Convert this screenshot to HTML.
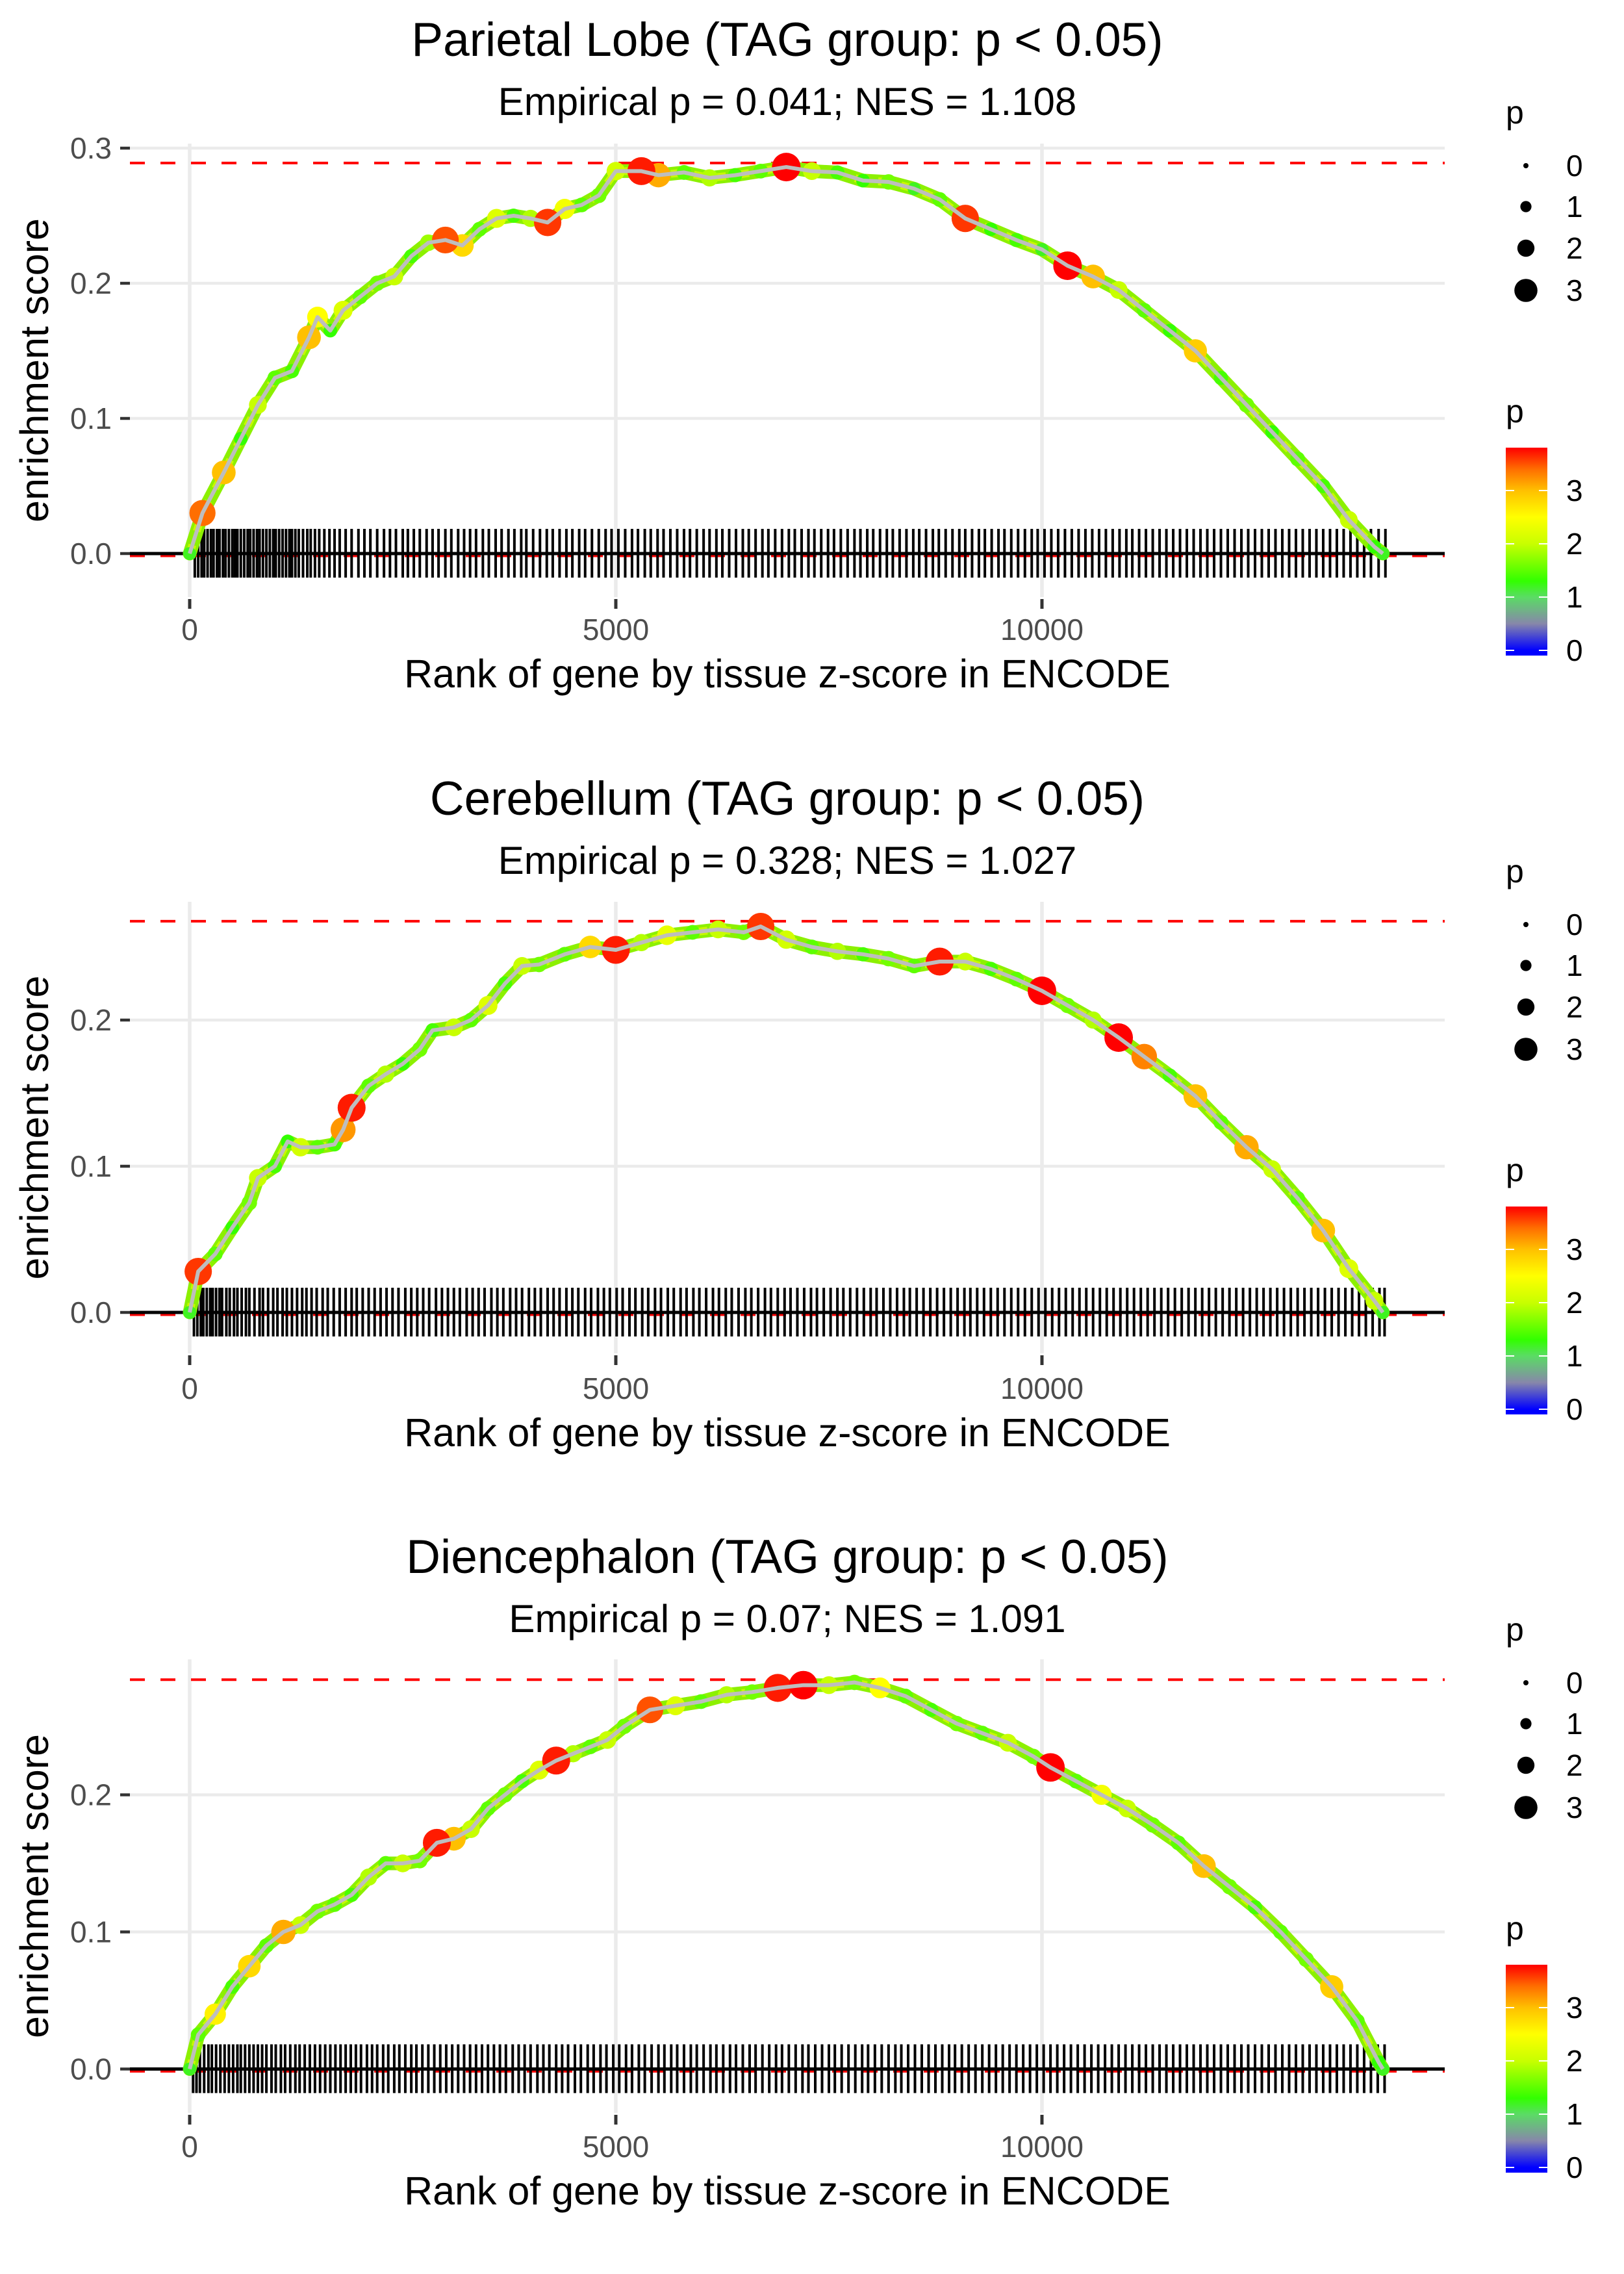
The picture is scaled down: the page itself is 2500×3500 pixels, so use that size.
<!DOCTYPE html>
<html><head><meta charset="utf-8"><style>
html,body{margin:0;padding:0;background:#fff;}
svg{display:block;font-family:"Liberation Sans",Arial,sans-serif;}
</style></head><body>
<svg id="chart" xmlns="http://www.w3.org/2000/svg" width="2500" height="3500" viewBox="0 0 2500 3500"></svg>
<script>
// ---------- DATA ----------
const panelTitles = ["Parietal Lobe (TAG group: p < 0.05)", "Cerebellum (TAG group: p < 0.05)", "Diencephalon (TAG group: p < 0.05)"];
const panelSubtitles = ["Empirical p = 0.041; NES = 1.108", "Empirical p = 0.328; NES = 1.027", "Empirical p = 0.07; NES = 1.091"];
const maxES = [0.289, 0.2676, 0.284];
const xTicks = [0, 5000, 10000];
const xTickLabels = ["0", "5000", "10000"];
const yTicks1 = [0, 0.1, 0.2, 0.3];
const yTicks2 = [0, 0.1, 0.2];
const yTicks3 = [0, 0.1, 0.2];
const yTickLabels1 = ["0.0", "0.1", "0.2", "0.3"];
const yTickLabels2 = ["0.0", "0.1", "0.2"];
const yTickLabels3 = ["0.0", "0.1", "0.2"];

const rank1 = [0,150,400,600,800,1000,1200,1400,1500,1650,1800,2000,2200,2400,2600,2800,3000,3200,3400,3600,3800,4000,4200,4400,4600,4800,5000,5300,5500,5800,6100,6400,6700,7000,7300,7600,7900,8200,8500,8800,9100,9400,9700,10000,10300,10600,10900,11200,11500,11800,12100,12400,12700,13000,13300,13600,13900,14000];
const es1 = [0,0.03,0.06,0.085,0.11,0.13,0.135,0.16,0.175,0.165,0.18,0.19,0.2,0.205,0.22,0.23,0.232,0.228,0.24,0.248,0.25,0.248,0.245,0.255,0.258,0.265,0.283,0.283,0.28,0.282,0.278,0.28,0.283,0.286,0.283,0.282,0.276,0.275,0.27,0.262,0.248,0.24,0.232,0.225,0.213,0.205,0.195,0.18,0.165,0.15,0.13,0.11,0.09,0.07,0.05,0.025,0.005,0];
const p1 = [1.2,3.4,3.0,1.3,2.0,1.5,1.4,3.0,2.5,1.3,2.2,1.5,1.6,2.0,1.4,1.8,3.5,2.8,1.5,2.2,1.4,1.9,3.6,2.4,1.5,1.6,2.1,3.7,3.1,1.5,1.9,1.4,1.5,3.8,2.0,1.4,1.3,1.6,1.2,1.5,3.6,1.3,1.4,1.2,3.8,3.0,2.0,1.5,1.3,2.9,1.4,1.6,1.3,1.5,1.4,2.0,1.3,1.2];

const rank2 = [0,100,300,500,700,800,1000,1150,1300,1500,1700,1800,1900,2100,2300,2500,2700,2850,3100,3300,3500,3700,3900,4100,4400,4700,5000,5300,5600,5900,6200,6500,6700,7000,7300,7600,7900,8200,8500,8800,9100,9400,9700,10000,10300,10600,10900,11200,11500,11800,12100,12400,12700,13000,13300,13600,13900,14000];
const es2 = [0,0.028,0.04,0.058,0.075,0.092,0.1,0.117,0.113,0.113,0.115,0.125,0.14,0.155,0.163,0.17,0.18,0.193,0.195,0.2,0.21,0.225,0.237,0.238,0.245,0.25,0.248,0.253,0.258,0.26,0.262,0.26,0.264,0.255,0.25,0.247,0.245,0.242,0.237,0.24,0.24,0.235,0.228,0.22,0.21,0.2,0.188,0.175,0.162,0.148,0.13,0.113,0.098,0.078,0.056,0.03,0.008,0];
const p2 = [1.2,3.6,1.5,1.3,1.6,2.0,1.4,1.3,2.1,1.5,1.4,3.2,3.7,1.5,1.9,1.3,1.6,1.4,2.0,1.5,2.2,1.4,2.0,1.6,1.5,2.8,3.7,1.9,2.3,1.5,2.0,1.6,3.6,2.1,1.5,1.9,1.4,1.6,1.5,3.7,2.0,1.4,1.5,3.8,1.6,1.9,3.8,3.3,1.4,3.0,1.5,3.1,2.0,1.5,3.0,2.2,2.0,1.2];

const rank3 = [0,100,300,500,700,900,1100,1300,1500,1700,1900,2100,2300,2500,2700,2900,3100,3300,3500,3700,3900,4100,4300,4500,4700,4900,5100,5400,5700,6000,6300,6600,6900,7200,7500,7800,8100,8400,8700,9000,9300,9600,9900,10100,10400,10700,11000,11300,11600,11900,12200,12500,12800,13100,13400,13700,13950,14000];
const es3 = [0,0.025,0.04,0.06,0.075,0.09,0.1,0.105,0.115,0.12,0.127,0.14,0.15,0.15,0.152,0.165,0.168,0.175,0.19,0.2,0.21,0.218,0.225,0.23,0.235,0.24,0.25,0.262,0.265,0.268,0.273,0.275,0.278,0.28,0.28,0.282,0.278,0.272,0.262,0.252,0.245,0.238,0.228,0.22,0.21,0.2,0.19,0.178,0.165,0.148,0.133,0.118,0.1,0.08,0.06,0.035,0.005,0];
const p3 = [1.2,1.5,2.6,1.4,2.8,1.5,3.1,2.0,1.6,1.5,1.4,1.9,1.5,2.0,1.6,3.7,3.0,2.0,1.5,1.6,1.4,2.2,3.7,1.9,1.5,2.0,1.6,3.5,2.2,1.5,1.9,1.6,3.7,3.8,2.0,1.6,2.5,1.5,1.4,1.6,1.5,2.0,1.6,3.8,1.5,2.4,2.0,1.6,1.5,3.0,1.6,1.4,1.5,1.6,2.9,1.5,1.3,1.2];

const rug1 = [60,100,140,170,210,250,280,320,350,390,420,460,500,530,560,600,640,680,710,750,790,820,860,900,940,980,1010,1050,1090,1130,1170,1200,1240,1280,1330,1380,1420,1470,1520,1580,1640,1700,1760,1830,1900,1980,2050,2120,2200,2280,2350,2420,2500,2560,2630,2700,2780,2850,2920,3000,3070,3150,3220,3290,3360,3440,3510,3590,3660,3740,3810,3890,3950,4030,4110,4190,4260,4340,4420,4490,4570,4640,4720,4800,4880,4950,5030,5110,5190,5260,5340,5410,5490,5560,5640,5720,5800,5870,5950,6030,6100,6180,6250,6330,6410,6490,6560,6640,6720,6790,6870,6950,7030,7100,7180,7260,7330,7410,7490,7560,7640,7720,7800,7870,7950,8020,8100,8180,8250,8330,8410,8490,8560,8640,8720,8790,8870,8950,9030,9100,9180,9260,9330,9410,9490,9560,9640,9720,9800,9880,9950,10030,10110,10190,10270,10350,10430,10510,10590,10670,10750,10830,10910,10990,11060,11140,11220,11300,11380,11460,11540,11620,11700,11780,11860,11940,12020,12100,12180,12260,12340,12420,12500,12580,12660,12740,12820,12900,12980,13060,13140,13220,13300,13380,13460,13540,13620,13700,13780,13860,13950,14030];
const rug2 = [50,90,130,160,200,240,270,310,350,380,430,470,520,560,610,660,700,760,820,860,920,980,1030,1090,1140,1200,1260,1320,1370,1430,1490,1560,1620,1690,1760,1830,1900,1960,2030,2100,2170,2240,2310,2380,2450,2530,2600,2670,2740,2810,2890,2960,3030,3100,3170,3250,3320,3390,3460,3540,3610,3680,3760,3830,3900,3980,4050,4120,4200,4270,4340,4420,4490,4560,4640,4710,4790,4860,4930,5010,5080,5160,5230,5310,5380,5460,5530,5610,5680,5760,5830,5910,5980,6060,6140,6210,6290,6360,6440,6520,6590,6670,6750,6820,6900,6980,7050,7130,7210,7290,7360,7440,7520,7600,7670,7750,7830,7910,7990,8060,8140,8220,8300,8380,8450,8530,8610,8690,8770,8850,8930,9010,9090,9160,9240,9320,9400,9480,9560,9640,9720,9800,9880,9960,10040,10120,10200,10280,10360,10440,10520,10600,10680,10760,10840,10920,11000,11080,11160,11240,11320,11400,11480,11560,11640,11720,11800,11880,11960,12040,12120,12200,12280,12360,12440,12520,12600,12680,12760,12840,12920,13000,13080,13160,13240,13320,13400,13480,13560,13640,13720,13800,13880,13960,14020];
const rug3 = [40,80,120,170,220,260,310,360,410,460,510,560,600,650,700,750,800,850,900,960,1010,1070,1120,1180,1240,1290,1350,1410,1470,1530,1590,1650,1710,1770,1830,1890,1950,2010,2080,2140,2200,2270,2330,2400,2460,2530,2600,2660,2730,2800,2870,2940,3010,3080,3150,3220,3290,3360,3430,3500,3570,3640,3710,3790,3860,3930,4000,4080,4150,4220,4300,4370,4440,4520,4590,4670,4740,4820,4890,4970,5040,5120,5190,5270,5340,5420,5500,5570,5650,5720,5800,5880,5950,6030,6110,6180,6260,6340,6410,6490,6570,6640,6720,6800,6880,6950,7030,7110,7190,7260,7340,7420,7500,7570,7650,7730,7810,7890,7960,8040,8120,8200,8280,8350,8430,8510,8590,8670,8750,8830,8910,8980,9060,9140,9220,9300,9380,9460,9540,9620,9700,9780,9860,9940,10020,10100,10180,10260,10340,10420,10500,10580,10660,10740,10820,10900,10980,11060,11140,11220,11300,11380,11460,11540,11620,11700,11780,11860,11940,12020,12100,12180,12260,12340,12420,12500,12580,12660,12740,12820,12900,12980,13060,13140,13220,13300,13380,13460,13540,13620,13700,13780,13860,13940,14020];

const legendSizeValues = [0, 1, 2, 3];
const colorbarTickValues = [0, 1, 2, 3];

// ---------- LAYOUT ----------
const NS = "http://www.w3.org/2000/svg";
const svg = document.getElementById("chart");
const X0 = 292, XPER = 0.13120;
const PL = 200, PR = 2224;
const panels = [
  {dy:0, zero:852, scale:2080, top:221, bot:919, rank:rank1, es:es1, p:p1, rug:rug1, yt:yTicks1, ytl:yTickLabels1},
  {dy:1168, zero:2020, scale:2250, top:1388, bot:2083, rank:rank2, es:es2, p:p2, rug:rug2, yt:yTicks2, ytl:yTickLabels2},
  {dy:2335, zero:3184.5, scale:2110, top:2554, bot:3252, rank:rank3, es:es3, p:p3, rug:rug3, yt:yTicks3, ytl:yTickLabels3}
];
function xs(r){ return X0 + r*XPER; }
function mk(tag, attrs, parent){
  const e = document.createElementNS(NS, tag);
  for (const k in attrs) e.setAttribute(k, attrs[k]);
  (parent||svg).appendChild(e);
  return e;
}
const stops = [[0,[0,0,255]],[0.5,[135,135,170]],[1,[90,220,100]],[1.3,[50,255,0]],[2,[200,255,0]],[2.5,[255,255,0]],[3,[255,192,0]],[3.4,[255,110,0]],[3.8,[255,0,0]]];
function pcol(p){
  if (p<=0) return "rgb(0,0,255)";
  for (let i=1;i<stops.length;i++){
    if (p<=stops[i][0]){
      const a=stops[i-1], b=stops[i], t=(p-a[0])/(b[0]-a[0]);
      const c=a[1].map((v,j)=>Math.round(v+(b[1][j]-v)*t));
      return "rgb("+c.join(",")+")";
    }
  }
  return "rgb(255,0,0)";
}
function prad(p){ return 4.5 + 4.6*p; }

panels.forEach((P, pi) => {
  const ys = v => P.zero - v*P.scale;
  const g = mk("g", {});
  
  

  let t = mk("text", {x:1212, y:86+P.dy, "text-anchor":"middle", "font-size":73, fill:"#000"}, g);
  t.textContent = panelTitles[pi];
  
  
  t = mk("text", {x:1212, y:177+P.dy, "text-anchor":"middle", "font-size":60, fill:"#000"}, g);
  t.textContent = panelSubtitles[pi];
  
  

  P.yt.forEach(v => {
    const l = mk("line", {x1:PL, x2:PR, y1:ys(v), y2:ys(v), stroke:"#ebebeb", "stroke-width":4.5}, g);
    
    
  });
  xTicks.forEach(v => {
    const l = mk("line", {x1:xs(v), x2:xs(v), y1:P.top, y2:P.bot, stroke:"#ebebeb", "stroke-width":5.5}, g);
    
    
  });

  P.yt.forEach((v,i) => {
    const l = mk("line", {x1:185, x2:200, y1:ys(v), y2:ys(v), stroke:"#333", "stroke-width":4.5}, g);
    
    
    const tx = mk("text", {x:172, y:ys(v)+16, "text-anchor":"end", "font-size":46, fill:"#4d4d4d"}, g);
    tx.textContent = P.ytl[i];
    
    
  });
  xTicks.forEach((v,i) => {
    const l = mk("line", {x1:xs(v), x2:xs(v), y1:P.bot+3, y2:P.bot+18, stroke:"#333", "stroke-width":5}, g);
    
    
    const tx = mk("text", {x:xs(v), y:985+P.dy, "text-anchor":"middle", "font-size":46, fill:"#4d4d4d"}, g);
    tx.textContent = xTickLabels[i];
    
    
  });

  t = mk("text", {x:1212, y:1058+P.dy, "text-anchor":"middle", "font-size":61, fill:"#000"}, g);
  t.textContent = "Rank of gene by tissue z-score in ENCODE";
  
  
  const cy = (P.top+P.bot)/2;
  t = mk("text", {x:0, y:0, "text-anchor":"middle", "font-size":61, fill:"#000", transform:"translate(74,"+cy+") rotate(-90)"}, g);
  t.textContent = "enrichment score";
  
  

  let d = mk("line", {x1:PL, x2:PR, y1:ys(maxES[pi]), y2:ys(maxES[pi]), stroke:"#ff0000", "stroke-width":4, "stroke-dasharray":"23 24"}, g);
  
  
  d = mk("line", {x1:PL, x2:PR, y1:P.zero+3.5, y2:P.zero+3.5, stroke:"#ff0000", "stroke-width":4, "stroke-dasharray":"23 24"}, g);
  
  

  const rg = mk("g", {}, g);
  
  
  P.rug.forEach(r => {
    const l = mk("line", {x1:xs(r), x2:xs(r), y1:P.zero-38, y2:P.zero+37, stroke:"#000", "stroke-width":4}, rg);
    
    
  });

  d = mk("line", {x1:PL, x2:PR, y1:P.zero, y2:P.zero, stroke:"#000", "stroke-width":5}, g);
  
  

  const pts = P.rank.map((r,i)=>xs(r).toFixed(1)+","+ys(P.es[i]).toFixed(1)).join(" ");
  // dense point band underlying the curve
  const band = mk("polyline", {points:pts, fill:"none", stroke:"#8cf000", "stroke-width":21, "stroke-linejoin":"round", "stroke-linecap":"round"}, g);
  
  
  const band2 = mk("polyline", {points:pts, fill:"none", stroke:"#c8f800", "stroke-width":12, "stroke-linejoin":"round", "stroke-dasharray":"14 22"}, g);
  
  

  const dg = mk("g", {}, g);
  
  
  const order = P.p.map((v,i)=>i).sort((a,b)=>P.p[a]-P.p[b]);
  order.forEach(i => {
    const c = mk("circle", {cx:xs(P.rank[i]), cy:ys(P.es[i]), r:prad(P.p[i]), fill:pcol(P.p[i])}, dg);
    
    
  });
  const pl = mk("polyline", {points:pts, fill:"none", stroke:"#bebebe", "stroke-width":6, "stroke-linejoin":"round"}, g);
  
  

  const lg = mk("g", {}, g);
  
  
  t = mk("text", {x:2318, y:190+P.dy, "font-size":50, fill:"#000"}, lg);
  t.textContent = "p";
  
  
  const sy = [255,318,382,447];
  legendSizeValues.forEach((v,i) => {
    const c = mk("circle", {cx:2349, cy:sy[i]+P.dy, r:prad(v)-0.5, fill:"#000"}, lg);
    
    
    const tx = mk("text", {x:2411, y:sy[i]+16+P.dy, "font-size":46, fill:"#000"}, lg);
    tx.textContent = String(v);
    
    
  });

  const cg = mk("g", {}, g);
  
  
  t = mk("text", {x:2318, y:650+P.dy, "font-size":50, fill:"#000"}, cg);
  t.textContent = "p";
  
  
  const gid = "grad"+pi;
  const defs = mk("defs", {}, cg);
  const lgd = mk("linearGradient", {id:gid, x1:0, y1:1, x2:0, y2:0}, defs);
  const cbTop = 689, cbBot = 1009, cb0 = 1001, cbU = 82;
  stops.forEach(s => {
    const yv = cb0 - s[0]*cbU;
    const off = (cbBot - yv)/(cbBot-cbTop);
    mk("stop", {offset:Math.max(0,Math.min(1,off)), "stop-color":"rgb("+s[1].join(",")+")"}, lgd);
  });
  const rb = mk("rect", {x:2318, y:cbTop+P.dy, width:64, height:cbBot-cbTop, fill:"url(#"+gid+")"}, cg);
  
  
  colorbarTickValues.forEach(v => {
    const yv = cb0 - v*cbU + P.dy;
    let l = mk("line", {x1:2318, x2:2331, y1:yv, y2:yv, stroke:"#fff", "stroke-width":2}, cg);
    
    
    l = mk("line", {x1:2369, x2:2382, y1:yv, y2:yv, stroke:"#fff", "stroke-width":2}, cg);
    
    
    const tx = mk("text", {x:2411, y:yv+16, "font-size":46, fill:"#000"}, cg);
    tx.textContent = String(v);
    
    
  });
});
</script>
</body></html>
